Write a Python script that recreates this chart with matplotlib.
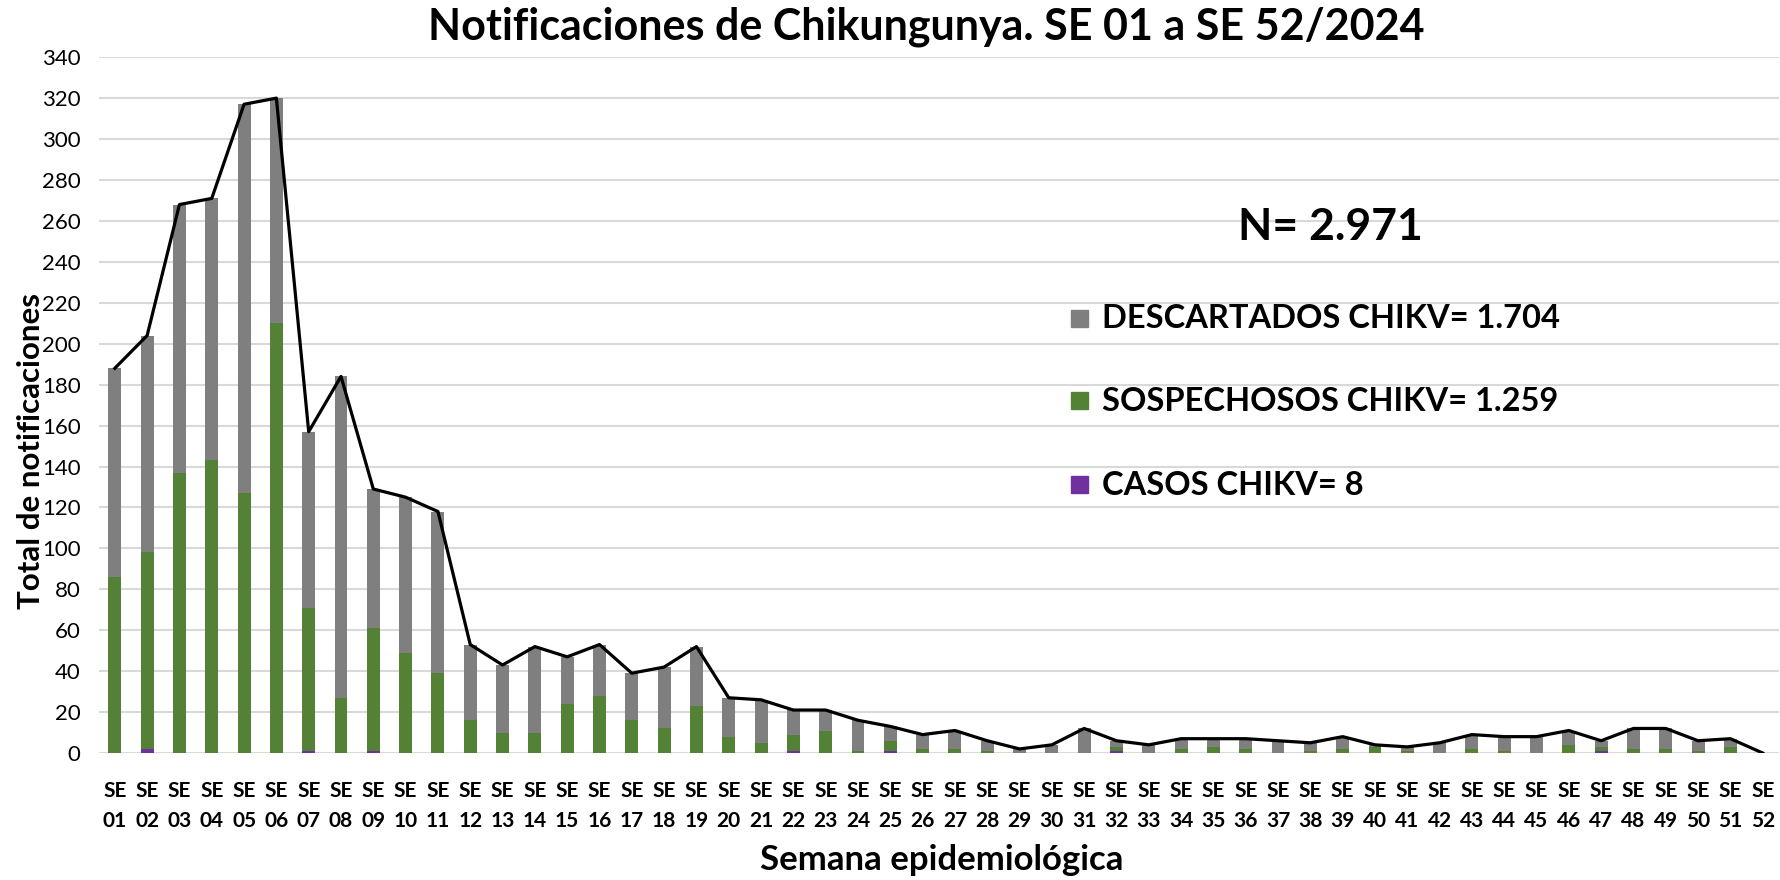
import matplotlib
matplotlib.use("Agg")
import matplotlib.pyplot as plt
from matplotlib.patches import Rectangle
import numpy as np

plt.rcParams['font.family'] = ['Lato', 'DejaVu Sans']

weeks = [f"SE\n{i:02d}" for i in range(1, 53)]

casos = [0, 2, 0, 0, 0, 0, 1, 0, 1, 0, 0, 0, 0, 0, 0, 0, 0, 0, 0, 0,
         0, 1, 0, 0, 1, 0, 0, 0, 0, 0, 0, 1, 0, 0, 0, 0, 0, 0, 0, 0,
         0, 0, 0, 0, 0, 0, 1, 0, 0, 0, 0, 0]
sospechosos = [86, 96, 137, 143, 127, 210, 70, 27, 60, 49, 39, 16, 10, 10, 24, 28, 16, 12, 23, 8,
               5, 8, 11, 1, 5, 2, 2, 1, 0, 0, 0, 2, 0, 2, 3, 2, 0, 1, 2, 3,
               1, 0, 2, 1, 0, 4, 2, 2, 2, 1, 3, 0]
descartados = [102, 106, 131, 128, 190, 110, 86, 157, 68, 76, 79, 37, 33, 42, 23, 25, 23, 30, 29, 19,
               21, 12, 10, 15, 7, 7, 9, 5, 2, 4, 12, 3, 4, 5, 4, 5, 6, 4, 6, 1,
               2, 5, 7, 7, 8, 7, 3, 10, 10, 5, 4, 0]
totales = [188, 204, 268, 271, 317, 320, 157, 184, 129, 125, 118, 53, 43, 52, 47, 53, 39, 42, 52, 27,
           26, 21, 21, 16, 13, 9, 11, 6, 2, 4, 12, 6, 4, 7, 7, 7, 6, 5, 8, 4,
           3, 5, 9, 8, 8, 11, 6, 12, 12, 6, 7, 0]

legend_labels = ["DESCARTADOS CHIKV= 1.704", "SOSPECHOSOS CHIKV= 1.259", "CASOS CHIKV= 8"]
title = "Notificaciones de Chikungunya. SE 01 a SE 52/2024"
n_text = "N= 2.971"

c_gray = "#7f7f7f"
c_green = "#538135"
c_purple = "#7030a0"

W, H = 1781, 880
fig = plt.figure(figsize=(W / 100, H / 100), dpi=100)
ax = fig.add_axes([0.0554, 0.1443, 0.9434, 0.7907])

x = np.arange(len(weeks))
w = 0.40
cas = np.array(casos)
sos = np.array(sospechosos)
des = np.array(descartados)
ax.bar(x, cas, w, color=c_purple, zorder=2)
ax.bar(x, sos, w, bottom=cas, color=c_green, zorder=2)
ax.bar(x, des, w, bottom=cas + sos, color=c_gray, zorder=2)
ax.plot(x, totales, color="black", lw=2.3, zorder=3)

ax.set_xlim(-0.5, len(weeks) - 0.5)
ax.set_ylim(0, 340)
ax.set_yticks(np.arange(0, 341, 20))
ax.yaxis.grid(True, color="#d9d9d9", lw=1.5, zorder=0)
ax.set_axisbelow(True)
for s in ax.spines.values():
    s.set_visible(False)
ax.tick_params(axis="both", length=0)
ax.tick_params(axis="y", labelsize=16, pad=13)
ax.set_xticks(x)
ax.set_xticklabels(weeks, fontsize=15, fontweight="bold", linespacing=1.65)
ax.tick_params(axis="x", pad=20)

fig.text(0.0175, 0.4875, "Total de notificaciones", fontsize=22.5, fontweight="bold",
         rotation=90, ha="center", va="center")
fig.text(0.529, 0.023, "Semana epidemiológica", fontsize=25, fontweight="bold",
         ha="center", va="center")
fig.text(0.52, 0.993, title, fontsize=31, fontweight="bold", ha="center", va="top")
fig.text(0.747, 0.742, n_text, fontsize=32, fontweight="bold", ha="center", va="center")

colors = [c_gray, c_green, c_purple]
row_y = [318, 401, 485]
sq = 17
for lab, col, yy in zip(legend_labels, colors, row_y):
    fig.patches.append(Rectangle(((1071) / W, 1 - (yy + sq / 2) / H), sq / W, sq / H,
                                 transform=fig.transFigure, color=col, figure=fig))
    fig.text(1102 / W, 1 - yy / H, lab, fontsize=23.5, fontweight="bold",
             ha="left", va="center")

fig.savefig("out.png", dpi=100)
